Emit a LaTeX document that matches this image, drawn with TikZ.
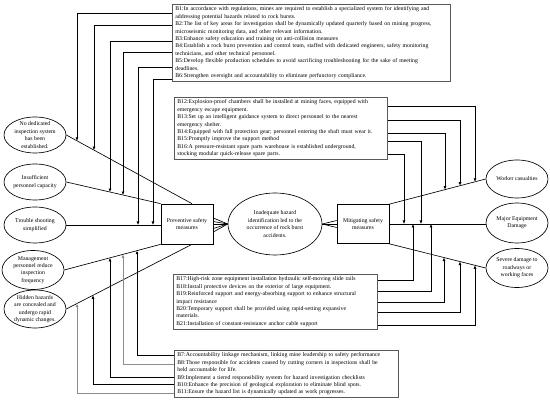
\documentclass[tikz,border=0pt]{standalone}
\usepackage{fontspec}
\setmainfont{Liberation Serif}
\usetikzlibrary{shapes.geometric,arrows.meta,calc}

\begin{document}
\begin{tikzpicture}
        [x=1pt,y=-1pt,line width=0.65pt,
        every node/.style={font=\fontsize{5.8}{7.4}\selectfont,align=center},
        cause/.style={ellipse,draw,inner sep=-1pt,minimum width=62pt,minimum height=36pt},
        measure/.style={draw,minimum width=52pt,minimum height=40pt},
        itembox/.style={draw=black!65,line width=0.75pt,align=left,anchor=north west,
          inner xsep=3pt,inner ysep=2.5pt},
        fb/.style={-{Latex[length=3.5pt,width=3pt]}},
        pale/.style={draw=black!45}]
        \useasboundingbox (0,0) rectangle (550,406);
        %% causes
        \node[cause] (nd) at (35,135) {No dedicated\\inspection system\\has been\\established.};
        \node[cause] (ins) at (35,182) {Insufficient\\personnel capacity};
        \node[cause] (tro) at (35,225) {Trouble shooting\\simplified};
        \node[cause,minimum height=39pt] (mg) at (33,270) {Management\\personnel reduce\\inspection\\frequency};
        \node[cause,minimum height=38pt] (hid) at (35,309) {Hidden hazards\\are concealed and\\undergo rapid\\dynamic changes.};
        %% centre
        \node[measure] (prev) at (187,224) {Preventive safety\\measures};
        \node[ellipse,draw,inner sep=0pt,minimum width=94pt,minimum height=62pt] (ev) at (275,224)
          {Inadequate hazard\\identification led to the\\occurrence of rock burst\\accidents.};
        \node[measure,minimum height=39pt] (mit) at (363,224) {Mitigating safety\\measures};
        %% consequences
        \node[cause,minimum height=38pt] (wk) at (517,179) {Worker casualties};
        \node[cause,minimum height=40pt] (eq) at (517,223) {Major Equipment\\Damage};
        \node[cause,minimum height=39pt] (sev) at (517,268) {Severe damage to\\roadways or\\working faces};
        %% measure lists
        \node[itembox,text width=272pt] (top) at (172,4)
          {B1:In accordance with regulations, mines are required to establish a specialized system for identifying and\\
          addressing potential hazards related to rock bursts.\\
          B2:The list of key areas for investigation shall be dynamically updated quarterly based on mining progress,\\
          microseismic monitoring data, and other relevant information.\\
          B3:Enhance safety education and training on anti-collision measures\\
          B4:Establish a rock burst prevention and control team, staffed with dedicated engineers, safety monitoring\\
          technicians, and other technical personnel.\\
          B5:Develop flexible production schedules to avoid sacrificing troubleshooting for the sake of meeting\\
          deadlines.\\
          B6:Strengthen oversight and accountability to eliminate perfunctory compliance.};
        \node[itembox,text width=207pt] (mid) at (174,97)
          {B12:Explosion-proof chambers shall be installed at mining faces, equipped with\\
          emergency escape equipment.\\
          B13:Set up an intelligent guidance system to direct personnel to the nearest\\
          emergency shelter.\\
          B14:Equipped with fall protection gear; personnel entering the shaft must wear it.\\
          B15:Promptly improve the support method\\
          B16:A pressure-resistant spare parts warehouse is established underground,\\
          stocking modular quick-release spare parts.};
        \node[itembox,text width=198pt] (low) at (173,274)
          {B17:High-risk zone equipment installation hydraulic self-moving slide rails\\
          B18:Install protective devices on the exterior of large equipment.\\
          B19:Reinforced support and energy-absorbing support to enhance structural\\
          impact resistance\\
          B20:Temporary support shall be provided using rapid-setting expansive\\
          materials.\\
          B21:Installation of constant-resistance anchor cable support};
        \node[itembox,text width=218pt] (bot) at (174,350)
          {B7:Accountability linkage mechanism, linking mine leadership to safety performance\\
          B8:Those responsible for accidents caused by cutting corners in inspections shall be\\
          held accountable for life.\\
          B9:Implement a tiered responsibility system for hazard investigation checklists\\
          B10:Enhance the precision of geological exploration to eliminate blind spots.\\
          B11:Ensure the hazard list is dynamically updated as work progresses.};
        %% cause lines
        \coordinate (pn) at ($(prev.north)+(5,0)$);
        \coordinate (ps) at ($(prev.south)+(5,0)$);
        \draw (nd.east) -- (pn);
        \draw (ins.east) -- (prev.north west);
        \draw (tro.east) -- (tro.east -| prev.west);
        \draw (mg.east) -- (prev.south west);
        \draw (hid.east) -- (ps);
        %% consequence lines
        \draw (mit.north east) -- (wk.west);
        \draw (mit.east) -- (mit.east -| eq.west);
        \draw (mit.south east) -- (sev.west);
        %% fans into and out of the event
        \path
        \foreach \y in {218,221.5,228.5,232}
        {
          (prev.east |- 0,\y) edge (ev.west)
        };
        \draw[fb] (prev.east) -- (ev.west);
        \path
        \foreach \y in {220.5,224,227.5}
        {
          (ev.east) edge (mit.west |- 0,\y)
        };
        %% B1--B6
        \draw[fb] (top.west |- 0,13) -| (intersection of nd.east--pn and 77,0--77,1);
        \draw[fb] (top.west |- 0,25) -| (intersection of nd.east--pn and 94,0--94,1);
        \draw[fb] (top.west |- 0,41) -| (intersection of ins.east--prev.north west and 110,0--110,1);
        \draw[fb] (top.west |- 0,52) -| (intersection of ins.east--prev.north west and 123,0--123,1);
        \draw[fb] (top.west |- 0,67) -| (138,0 |- tro.east);
        \draw[fb] (top.west |- 0,79) -| (153,0 |- tro.east);
        %% B7--B11
        \draw[fb] (bot.west |- 0,355) -| (intersection of mg.east--prev.south west and 137,0--137,1);
        \draw[fb,pale] (bot.west |- 0,364) -| (intersection of mg.east--prev.south west and 123,0--123,1);
        \draw[fb] (bot.west |- 0,377) -| (intersection of mg.east--prev.south west and 110,0--110,1);
        \draw[fb] (bot.west |- 0,384) -| (intersection of hid.east--ps and 93,0--93,1);
        \draw[fb,pale] (bot.west |- 0,393) -| (intersection of hid.east--ps and 77,0--77,1);
        %% B12--B16
        \draw[fb] (mid.east |- 0,106) -| (intersection of mit.north east--wk.west and 475,0--475,1);
        \draw[fb] (mid.east |- 0,120) -| (intersection of mit.north east--wk.west and 460,0--460,1);
        \draw[fb] (mid.east |- 0,133) -| (intersection of mit.north east--wk.west and 445,0--445,1);
        \draw[fb] (mid.east |- 0,141) -| (421,0 |- mit.east);
        \draw[fb] (mid.east |- 0,154) -| (404,0 |- mit.east);
        %% B17--B21
        \draw[fb] (low.east |- 0,280) -| (413,0 |- mit.east);
        \draw[fb] (low.east |- 0,291) -| (431,0 |- mit.east);
        \draw[fb] (low.east |- 0,302) -| (intersection of mit.south east--sev.west and 444,0--444,1);
        \draw[fb] (low.east |- 0,312) -| (intersection of mit.south east--sev.west and 460,0--460,1);
        \draw[fb] (low.east |- 0,325) -| (intersection of mit.south east--sev.west and 475,0--475,1);
\end{tikzpicture}
\end{document}
